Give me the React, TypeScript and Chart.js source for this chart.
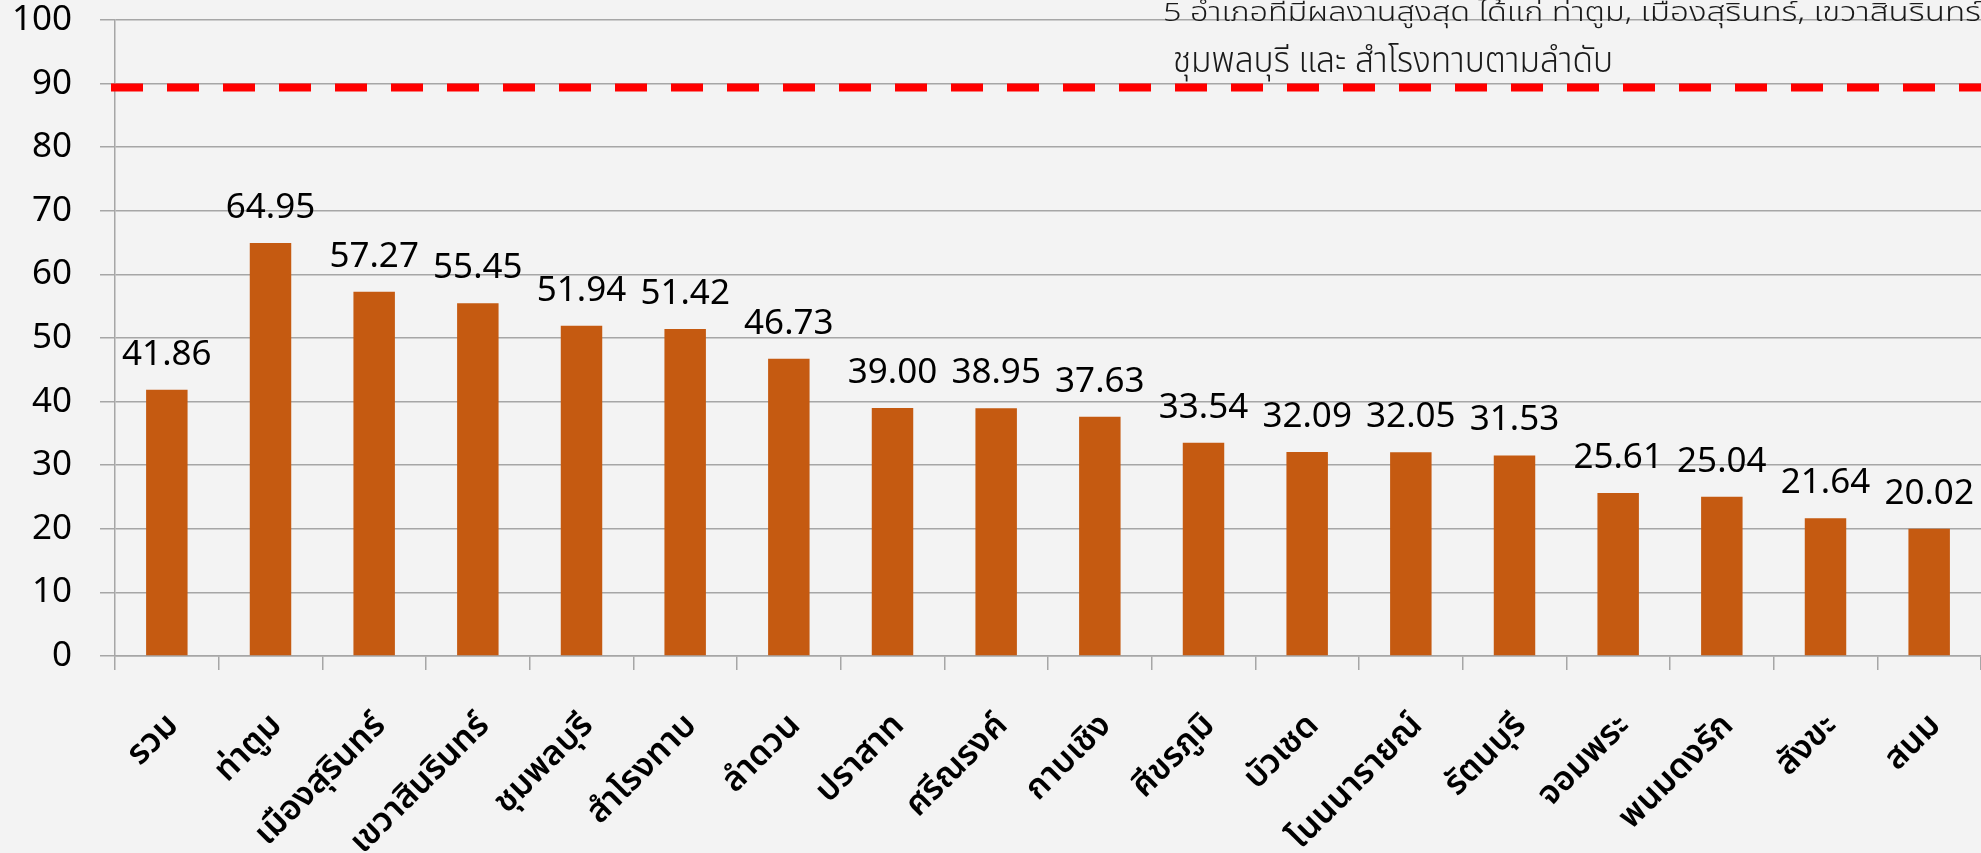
import React, { useEffect, useRef } from 'react';
import { Chart, registerables } from 'chart.js';

Chart.register(...registerables);

const categories = [
  'รวม', 'ท่าตูม', 'เมืองสุรินทร์', 'เขวาสินรินทร์', 'ชุมพลบุรี', 'สำโรงทาบ',
  'ลำดวน', 'ปราสาท', 'ศรีณรงค์', 'กาบเชิง', 'ศีขรภูมิ', 'บัวเชด',
  'โนนนารายณ์', 'รัตนบุรี', 'จอมพระ', 'พนมดงรัก', 'สังขะ', 'สนม',
];
const values = [
  41.86, 64.95, 57.27, 55.45, 51.94, 51.42,
  46.73, 39.0, 38.95, 37.63, 33.54, 32.09,
  32.05, 31.53, 25.61, 25.04, 21.64, 20.02,
];
const yMin = 0;
const yMax = 100;
const yStep = 10;
const targetValue = 89.4;
const noteLine1A = '5 อำเภอที่มีผลงานสูงสุด ได้แก่ ท่าตูม,';
const noteLine1B = ' เมืองสุรินทร์, เขวาสินรินทร์,';
const noteLine2 = 'ชุมพลบุรี และ สำโรงทาบตามลำดับ';

const GRID = '#a6a6a6';
const BAR = '#C55A11';
const THAI_FONT = "'Noto Sans Thai', 'Noto Sans', sans-serif";

export default function App() {
  const ref = useRef<HTMLCanvasElement | null>(null);

  useEffect(() => {
    document.body.style.margin = '0';
    document.body.style.background = '#f3f3f3';
    const canvas = ref.current;
    if (!canvas) return;

    const targetPlugin = {
      id: 'targetLine',
      afterDatasetsDraw(chart: any) {
        const { ctx, chartArea, scales } = chart;
        const y = scales.y.getPixelForValue(targetValue);
        ctx.save();
        ctx.strokeStyle = '#ff0000';
        ctx.lineWidth = 8;
        ctx.setLineDash([32, 24]);
        ctx.beginPath();
        ctx.moveTo(chartArea.left - 4, y);
        ctx.lineTo(chartArea.right + 20, y);
        ctx.stroke();
        ctx.restore();
      },
    };

    const valueLabels = {
      id: 'valueLabels',
      afterDatasetsDraw(chart: any) {
        const { ctx } = chart;
        const meta = chart.getDatasetMeta(0);
        ctx.save();
        ctx.fillStyle = '#000';
        ctx.font = "35px 'Noto Sans', sans-serif";
        ctx.textAlign = 'center';
        ctx.textBaseline = 'alphabetic';
        meta.data.forEach((bar: any, i: number) => {
          ctx.fillText(values[i].toFixed(2), bar.x, bar.y - 25);
        });
        ctx.restore();
      },
    };

    const xLabels = {
      id: 'xLabels',
      afterDraw(chart: any) {
        const { ctx, scales } = chart;
        const xs = scales.x;
        ctx.save();
        ctx.fillStyle = '#000';
        ctx.font = `600 34px ${THAI_FONT}`;
        ctx.textAlign = 'right';
        ctx.textBaseline = 'middle';
        categories.forEach((c, i) => {
          const x = xs.getPixelForValue(i);
          ctx.save();
          ctx.translate(x + 8, xs.top + 66);
          ctx.rotate(-Math.PI / 4);
          ctx.fillText(c, 0, 0);
          ctx.restore();
        });
        ctx.restore();
      },
    };

    const notePlugin = {
      id: 'note',
      afterDraw(chart: any) {
        const { ctx } = chart;
        ctx.save();
        ctx.fillStyle = '#1a1a1a';
        ctx.font = `300 26px ${THAI_FONT}`;
        ctx.textBaseline = 'alphabetic';
        const wA = ctx.measureText(noteLine1A).width;
        const wB = ctx.measureText(noteLine1B.slice(0, -2)).width;
        const sA = 469 / wA;
        const sB = 349 / wB;
        ctx.save();
        ctx.translate(1163, 20.5);
        ctx.scale(sA, 1);
        ctx.fillText(noteLine1A, 0, 0);
        ctx.restore();
        ctx.save();
        ctx.translate(1163 + 469, 20.5);
        ctx.scale(sB, 1);
        ctx.fillText(noteLine1B, 0, 0);
        ctx.restore();
        ctx.restore();

        ctx.save();
        ctx.fillStyle = '#1a1a1a';
        ctx.font = `300 36px ${THAI_FONT}`;
        ctx.textBaseline = 'alphabetic';
        const w2 = ctx.measureText(noteLine2).width;
        const s2 = 440 / w2;
        ctx.translate(1173, 71.5);
        ctx.scale(s2, 1);
        ctx.fillText(noteLine2, 0, 0);
        ctx.restore();
      },
    };

    const chart = new Chart(canvas, {
      type: 'bar',
      data: {
        labels: categories,
        datasets: [
          {
            data: values,
            backgroundColor: BAR,
            borderWidth: 0,
            categoryPercentage: 1,
            barPercentage: 0.4,
          },
        ],
      },
      options: {
        responsive: false,
        animation: false,
        layout: { padding: { top: 20, right: 0, left: 0, bottom: 0 } },
        plugins: {
          legend: { display: false },
          tooltip: { enabled: false },
          title: { display: false },
        },
        scales: {
          x: {
            offset: true,
            grid: {
              offset: true,
              drawOnChartArea: false,
              drawTicks: true,
              tickLength: 14,
              color: GRID,
              lineWidth: 1.5,
            },
            border: { color: GRID, width: 1.5 },
            ticks: { display: false, autoSkip: false },
            afterFit(scale: any) {
              scale.height = 197;
              scale.paddingLeft = 0;
              scale.paddingRight = 0;
            },
          },
          y: {
            min: yMin,
            max: yMax,
            ticks: {
              stepSize: yStep,
              color: '#000',
              padding: 28,
              font: { family: "'Noto Sans', sans-serif", size: 35 },
            },
            grid: {
              color: GRID,
              lineWidth: 1.5,
              tickLength: 15,
              drawTicks: true,
            },
            border: { color: GRID, width: 1.5 },
            afterFit(scale: any) {
              scale.width = 115;
              scale.paddingTop = 0;
              scale.paddingBottom = 0;
            },
          },
        },
      },
      plugins: [targetPlugin, valueLabels, xLabels, notePlugin],
    });

    return () => chart.destroy();
  }, []);

  return (
    <div style={{ width: 1981, height: 853, background: '#f3f3f3' }}>
      <canvas ref={ref} width={1981} height={853} style={{ display: 'block' }} />
    </div>
  );
}
